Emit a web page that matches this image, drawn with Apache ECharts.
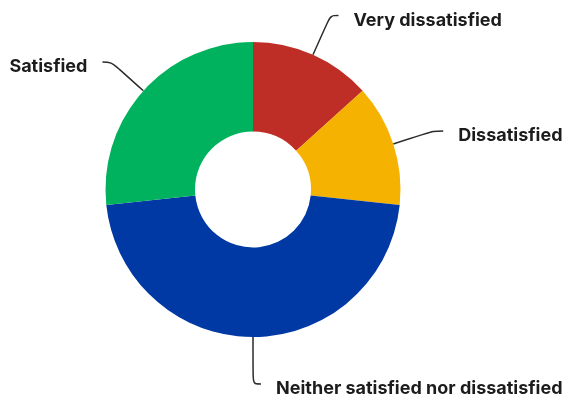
<!DOCTYPE html>
<html>
<head>
<meta charset="utf-8">
<style>
  html, body { margin: 0; padding: 0; background: #ffffff; }
  #chart { width: 568px; height: 398px; }
</style>
<script src="https://cdn.jsdelivr.net/npm/echarts@6/dist/echarts.min.js"></script>
</head>
<body>
<div id="chart"></div>
<script>
// Satisfaction survey responses (counts per answer)
const categories = ['Very dissatisfied', 'Dissatisfied', 'Neither satisfied nor dissatisfied', 'Satisfied'];
const responses = [2, 2, 7, 4];
const sliceColors = ['#BF2E26', '#F5B200', '#0039A4', '#00B25D'];

// Leader line lengths per slice: [radial part, horizontal part]
const leaderLengths = [[43, 8], [42, 10], [47, 8], [43, 9]];

const chart = echarts.init(document.getElementById('chart'), null, { renderer: 'canvas' });

const data = categories.map((name, i) => ({
  name: name,
  value: responses[i],
  itemStyle: { color: sliceColors[i] },
  labelLine: { length: leaderLengths[i][0], length2: leaderLengths[i][1] }
}));

chart.setOption({
  animation: false,
  series: [{
    type: 'pie',
    center: [253, 189.5],
    radius: [58, 147.5],
    startAngle: 90,
    clockwise: true,
    avoidLabelOverlap: false,
    data: data,
    label: {
      show: true,
      position: 'outside',
      // an empty spacer line sits above the name so the text hangs
      // slightly below the end of its leader line
      formatter: '{gap|}\n{name|{b}}',
      distanceToLabelLine: 15,
      rich: {
        gap: { height: 10, lineHeight: 10, fontSize: 1 },
        name: {
          color: '#1c1c1c',
          fontFamily: 'Inter',
          fontWeight: 'bold',
          fontSize: 18,
          lineHeight: 22
        }
      }
    },
    labelLine: {
      show: true,
      smooth: 0.35,
      lineStyle: { color: '#2b2b2b', width: 1.5 }
    },
    emphasis: { disabled: true }
  }]
});
</script>
</body>
</html>
